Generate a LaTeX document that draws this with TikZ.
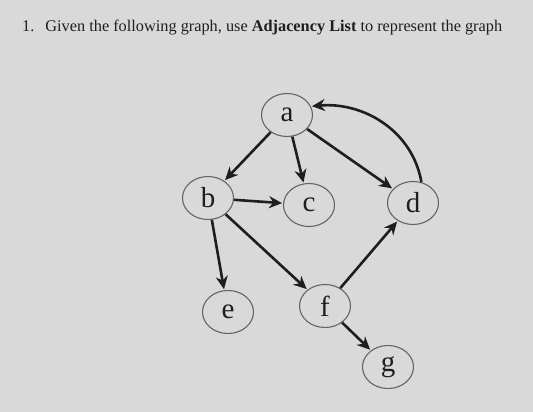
\documentclass[tikz,border=0pt]{standalone}
\usepackage{fontspec}
\setmainfont{Liberation Serif}
\usetikzlibrary{shapes.geometric,arrows.meta}
\definecolor{bg}{HTML}{D9D9D9}
\definecolor{ink}{HTML}{1E1E1E}
\definecolor{rim}{HTML}{5E6472}
\begin{document}
\begin{tikzpicture}[x=1pt,y=-1pt,
  vtx/.style={ellipse,draw=rim,line width=1.1pt,minimum width=51pt,minimum height=43pt,inner sep=0pt,
    font=\fontsize{29}{29}\selectfont,text=ink},
  edge/.style={draw=ink,line width=2.6pt,-{Stealth[length=13pt,width=12pt]},shorten >=1pt}]
\fill[bg] (0,0) rectangle (533,412);
\useasboundingbox (0,0) rectangle (533,412);
\node[anchor=west,text=ink,font=\fontsize{16.3}{18}\selectfont,inner sep=0pt] (title) at (22,28)
  {1.\hspace{11pt}Given the following graph, use \textbf{Adjacency List} to represent the graph};
\node[vtx] (a) at (287,115) {a};
\node[vtx] (b) at (208,198) {b};
\node[vtx] (c) at (309,205) {c};
\node[vtx] (d) at (413,203) {d};
\node[vtx] (e) at (228,312) {e};
\node[vtx] (f) at (325,306) {f};
\node[vtx] (g) at (388,367) {g};
\draw[edge] (a) -- (b);
\draw[edge] (a) -- (c);
\draw[edge] (a) -- (d);
\draw[edge] (d.68) to[out=100,in=5] (a.20);
\draw[edge] (b) -- (c);
\draw[edge] (b) -- (e);
\draw[edge] (b) -- (f);
\draw[edge] (f) -- (d);
\draw[edge] (f) -- (g);
\end{tikzpicture}
\end{document}
